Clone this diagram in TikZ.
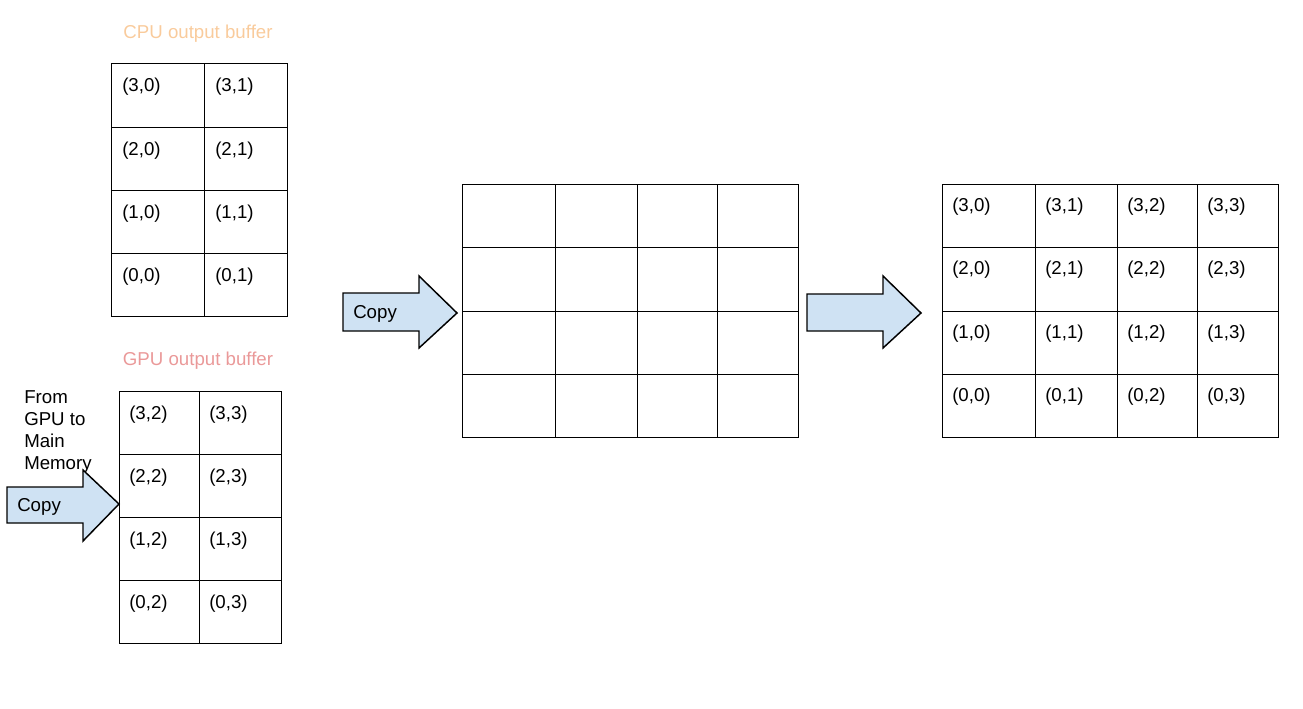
\documentclass[tikz,border=0pt]{standalone}
\usepackage{fontspec}
\setmainfont{Liberation Sans}
\definecolor{cpuc}{HTML}{F9CB9C}
\definecolor{gpuc}{HTML}{EA9999}
\definecolor{arrowfill}{HTML}{CFE2F3}
\begin{document}
\begin{tikzpicture}[x=0.75pt,y=-0.75pt,
  gridline/.style={draw=black, line width=0.65pt},
  lab/.style={anchor=west, inner sep=0pt, font=\fontsize{14}{16.5}\selectfont},
  title/.style={inner sep=0pt, font=\fontsize{14}{16.5}\selectfont},
  bigarrow/.style={draw=black, fill=arrowfill, line width=1.1pt, line join=miter}]
\useasboundingbox (0,0) rectangle (1303,708);

% CPU output buffer
\node[title, text=cpuc] (cputitle) at (198,34) {CPU output buffer};
\foreach \ya/\yb/\r in {63/127/3,127/190/2,190/253/1,253/316/0}{
  \foreach \xa/\xb/\c in {111/204/0,204/287/1}{
    \draw[gridline] (\xa,\ya) rectangle (\xb,\yb);
    \node[lab] (cpu-\r-\c) at (\xa+11,\ya+24) {(\r,\c)};
  }
}

% GPU output buffer
\node[title, text=gpuc] (gputitle) at (198,361) {GPU output buffer};
\foreach \ya/\yb/\r in {391/454/3,454/517/2,517/580/1,580/643/0}{
  \foreach \xa/\xb/\c in {119/199/2,199/281/3}{
    \draw[gridline] (\xa,\ya) rectangle (\xb,\yb);
    \node[lab] (gpu-\r-\c) at (\xa+10,\ya+24) {(\r,\c)};
  }
}

% From GPU label
\node[anchor=north west, inner sep=0pt, align=left,
  font=\fontsize{14}{16.5}\selectfont] (fromgpu) at (24,390)
  {From\\GPU to\\Main\\Memory};

% GPU copy arrow
\draw[bigarrow] (7,487) -- (83,487) -- (83,470) -- (119,504) -- (83,541) -- (83,523) -- (7,523) -- cycle;
\node[lab] (copy1) at (17,507) {Copy};

% middle empty grid
\foreach \ya/\yb in {184/247,247/311,311/374,374/437}{
  \foreach \xa/\xb in {462/555,555/637,637/717,717/798}{
    \draw[gridline] (\xa,\ya) rectangle (\xb,\yb);
  }
}

% middle copy arrow
\draw[bigarrow] (343,293) -- (419,293) -- (419,276) -- (457,313) -- (419,348) -- (419,331) -- (343,331) -- cycle;
\node[lab] (copy2) at (353,314) {Copy};

% right arrow
\draw[bigarrow] (807,294) -- (883,294) -- (883,276) -- (921,313) -- (883,348) -- (883,331) -- (807,331) -- cycle;

% final grid
\foreach \ya/\yb/\r in {184/247/3,247/311/2,311/374/1,374/437/0}{
  \foreach \xa/\xb/\c in {942/1035/0,1035/1117/1,1117/1197/2,1197/1278/3}{
    \draw[gridline] (\xa,\ya) rectangle (\xb,\yb);
    \node[lab] (fin-\r-\c) at (\xa+10,\ya+23) {(\r,\c)};
  }
}
\end{tikzpicture}
\end{document}
